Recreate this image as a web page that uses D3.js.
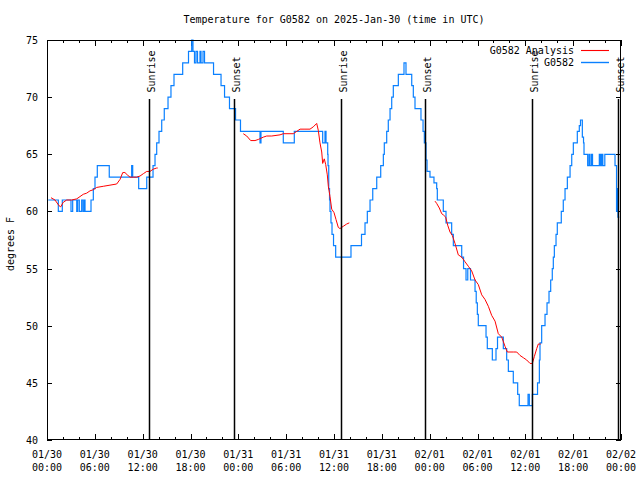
<!DOCTYPE html>
<html>
<head>
<meta charset="utf-8">
<script src="https://cdn.jsdelivr.net/npm/d3@7"></script>
<style>
  html, body { margin: 0; padding: 0; background: #fff; }
  svg { display: block; }
  text { font-family: "DejaVu Sans Mono", "Liberation Mono", monospace; font-size: 10px; fill: #000; }
</style>
</head>
<body>
<svg id="chart" width="640" height="480"></svg>
<script>
// ---- Data (hours since 2025-01-30 00:00 UTC) ----
const titleText = "Temperature for G0582 on 2025-Jan-30 (time in UTC)";
const yLabel = "degrees F";
const seriesNames = ["G0582 Analysis", "G0582"];

const xTickHours = [0, 6, 12, 18, 24, 30, 36, 42, 48, 54, 60, 66, 72];
const xTickDates = ["01/30","01/30","01/30","01/30","01/31","01/31","01/31","01/31","02/01","02/01","02/01","02/01","02/02"];
const xTickTimes = ["00:00","06:00","12:00","18:00","00:00","06:00","12:00","18:00","00:00","06:00","12:00","18:00","00:00"];
const yTicks = [40, 45, 50, 55, 60, 65, 70, 75];

const sunTimes = [12.79, 23.49, 36.92, 47.45, 60.88, 71.59];
const sunLabels = ["Sunrise", "Sunset", "Sunrise", "Sunset", "Sunrise", "Sunset"];

// Observed G0582 (blue): change points
const obsHours = [0.16,1.42,1.92,3.01,3.22,3.73,3.85,4.05,4.35,4.52,4.68,4.77,5.52,5.81,6.02,6.31,7.81,10.62,10.75,11.50,12.51,
  13.30,13.55,13.76,14.05,14.39,14.71,15.18,15.55,15.93,17.02,17.75,18.15,18.31,18.50,18.69,18.88,19.19,19.32,19.57,19.76,
  20.89,21.83,22.27,22.89,23.65,24.27,26.72,26.84,29.64,31.02,34.58,34.87,35.00,35.21,35.25,35.34,35.44,35.50,35.62,35.75,35.94,36.21,
  38.13,39.45,39.89,40.18,40.52,40.86,41.36,41.86,42.19,42.31,42.61,42.81,43.03,43.24,43.44,44.07,44.78,45.03,45.75,45.95,46.16,
  46.91,47.17,47.33,47.54,47.67,48.04,48.54,48.88,48.96,49.71,50.05,50.76,50.97,52.02,52.25,52.56,52.78,53.12,53.69,53.84,53.98,54.10,
  55.07,55.23,55.86,56.32,56.51,57.24,57.66,57.87,58.49,59.04,59.24,60.34,60.50,60.88,61.53,61.76,61.84,62.05,62.47,62.72,62.97,
  63.18,63.38,63.51,63.64,63.85,64.01,64.51,64.76,64.98,65.27,65.61,65.82,66.02,66.52,66.77,66.92,67.15,67.30,67.36,67.82,67.99,
  68.11,68.30,68.43,69.28,69.43,69.58,69.72,69.97,71.25,71.44,71.54,71.62,71.79];
const obsTemps = [61,60,61,60,61,60,61,60,61,60,61,60,61,62,63,64,63,64,63,62,63,
  64,65,66,67,68,69,70,71,72,73,74,75,74,73,74,73,74,73,74,73,
  72,71,70,69,68,67,66,67,66,67,66,67,66,65,64,62,61,60,59,58,57,56,
  57,58,59,60,61,62,63,64,65,66,67,68,69,70,71,72,73,72,71,70,69,
  68,67,66,64.5,63.5,63,62.5,62,61,60,59,58,57,56,55,54,55,54,53,52,51,50,
  49,48,47,48,49,48,47,46,45,44,43,44,43,44,45,47,48.5,50,51,52,53,
  54,55,56,57,58,59,60,61,62,63,64,65,66,67,67.5,68,66.5,66,65,64,65,
  64,65,64,65,64,65,64,65,64,60,62,59.5,59.5];

// Analysis G0582 (red): three segments
const anaHours1 = [0.50,1.00,1.51,1.72,2.04,2.47,3.10,3.73,4.14,4.55,4.98,5.39,5.81,6.23,7.06,7.90,8.74,9.16,9.50,9.78,10.07,10.41,10.83,11.25,11.67,12.08,12.51,12.92,13.33,13.76,13.89];
const anaTemps1 = [61.2,61.0,60.5,60.4,60.8,61.0,61.0,61.1,61.3,61.5,61.6,61.8,61.9,62.1,62.2,62.3,62.4,62.8,63.4,63.4,63.2,63.0,63.0,63.0,63.1,63.3,63.5,63.5,63.7,63.8,63.8];
const anaHours2 = [24.62,25.05,25.55,26.09,26.51,27.13,27.56,28.19,29.23,29.64,30.48,30.90,31.32,31.74,32.36,32.99,33.40,33.83,34.03,34.24,34.46,34.58,34.78,34.96,35.16,35.29,35.50,35.71,36.00,36.25,36.54,36.75,37.17,37.59,37.92];
const anaTemps2 = [66.8,66.6,66.2,66.2,66.3,66.5,66.6,66.6,66.7,66.8,66.8,66.8,67.0,67.2,67.2,67.2,67.4,67.7,67.1,66.0,65.2,64.2,64.6,64.1,63.2,62.2,61.3,60.2,59.9,59.3,58.6,58.5,58.7,58.9,59.0];
const anaHours3 = [48.67,48.88,49.21,49.51,49.71,50.01,50.26,50.55,50.84,51.18,51.59,52.02,52.43,52.85,53.27,53.69,54.10,54.53,54.94,55.36,55.78,56.20,56.61,57.04,57.45,57.74,58.08,58.49,58.92,59.33,59.75,60.17,60.59,60.88,61.13,61.43,61.63,61.93];
const anaTemps3 = [60.9,60.7,60.3,59.8,59.7,59.5,58.8,58.2,57.9,57.2,56.2,56.0,55.6,55.2,54.8,54.0,53.6,52.7,52.3,51.7,50.9,50.4,49.3,49.0,48.2,47.7,47.7,47.7,47.7,47.4,47.2,47.0,46.7,46.7,47.3,48.0,48.4,48.4];

// ---- Layout ----
const svg = d3.select("#chart");
const L = 47, R = 621, T = 40, B = 440;
const x = d3.scaleLinear().domain([0, 72]).range([L, R]);
const y = d3.scaleLinear().domain([40, 75]).range([B, T]);
const BLUE = "#0a80ff", RED = "#ff0000";

svg.append("rect").attr("width", 640).attr("height", 480).attr("fill", "#fff");

// Title
svg.append("text").attr("x", (L + R) / 2).attr("y", 23).attr("text-anchor", "middle").text(titleText);

// Y label
svg.append("text").attr("transform", `translate(14,244) rotate(-90)`).attr("text-anchor", "middle").text(yLabel);

// Axes
const minorHours = d3.range(0, 73, 2).filter(h => h % 6 !== 0);
function clean(g) { g.select(".domain").remove(); g.selectAll("line").attr("stroke", "#000").attr("shape-rendering", "crispEdges"); }

svg.append("g").attr("transform", `translate(0,${B})`)
  .call(d3.axisBottom(x).tickValues(xTickHours).tickSize(-6).tickFormat(""))
  .call(clean);
svg.append("g").attr("transform", `translate(0,${B})`)
  .call(d3.axisBottom(x).tickValues(minorHours).tickSize(-3).tickFormat(""))
  .call(clean);
svg.append("g").attr("transform", `translate(0,${T})`)
  .call(d3.axisTop(x).tickValues(xTickHours).tickSize(-6).tickFormat(""))
  .call(clean);
svg.append("g").attr("transform", `translate(0,${T})`)
  .call(d3.axisTop(x).tickValues(minorHours).tickSize(-3).tickFormat(""))
  .call(clean);

const yAxisG = svg.append("g").attr("transform", `translate(${L},0)`)
  .call(d3.axisLeft(y).tickValues(yTicks).tickSize(-5).tickPadding(9))
  .call(clean);
yAxisG.selectAll("text").attr("font-size", null).attr("font-family", null).attr("dy", "0.35em");
svg.append("g").attr("transform", `translate(${R},0)`)
  .call(d3.axisRight(y).tickValues(yTicks).tickSize(-5).tickFormat(""))
  .call(clean);

// X tick labels (two lines)
const xl = svg.append("g");
xTickHours.forEach((h, i) => {
  const t = xl.append("text").attr("text-anchor", "middle");
  t.append("tspan").attr("x", x(h)).attr("y", 458).text(xTickDates[i]);
  t.append("tspan").attr("x", x(h)).attr("y", 471).text(xTickTimes[i]);
});

// Data lines
svg.append("clipPath").attr("id", "clip").append("rect")
  .attr("x", L).attr("y", T - 1).attr("width", R - L).attr("height", B - T + 2);

const plot = svg.append("g").attr("clip-path", "url(#clip)");

const obs = obsHours.map((h, i) => [h, obsTemps[i]]);
plot.append("path").datum(obs)
  .attr("fill", "none").attr("stroke", BLUE).attr("stroke-width", 1.2)
  .attr("d", d3.line().x(d => x(d[0])).y(d => y(d[1])).curve(d3.curveStepAfter));

const anaSegs = [[anaHours1, anaTemps1], [anaHours2, anaTemps2], [anaHours3, anaTemps3]];
anaSegs.forEach(([hs, ts]) => {
  plot.append("path").datum(hs.map((h, i) => [h, ts[i]]))
    .attr("fill", "none").attr("stroke", RED).attr("stroke-width", 1)
    .attr("d", d3.line().x(d => x(d[0])).y(d => y(d[1])));
});

// Sunrise / sunset lines and labels
sunTimes.forEach((h, i) => {
  const px = Math.round(x(h)) + 0.5;
  svg.append("line").attr("x1", px).attr("x2", px).attr("y1", T + 59).attr("y2", B)
    .attr("stroke", "#000").attr("stroke-width", 1.5);
  svg.append("text").attr("transform", `translate(${px + 5.5},${T + 52.5}) rotate(-90)`)
    .attr("text-anchor", "start").text(sunLabels[i]);
});

// Frame
svg.append("rect").attr("x", L + 0.5).attr("y", T + 0.5).attr("width", R - L - 1).attr("height", B - T - 1)
  .attr("fill", "none").attr("stroke", "#000").attr("stroke-width", 1);

// Legend
const legColors = [RED, BLUE];
seriesNames.forEach((name, i) => {
  const ly = 50 + i * 12;
  svg.append("text").attr("x", 574).attr("y", ly + 3.5).attr("text-anchor", "end").text(name);
  svg.append("line").attr("x1", 581).attr("x2", 609).attr("y1", ly + 0.5).attr("y2", ly + 0.5)
    .attr("stroke", legColors[i]).attr("stroke-width", i === 0 ? 1.1 : 1.4);
});
</script>
</body>
</html>
